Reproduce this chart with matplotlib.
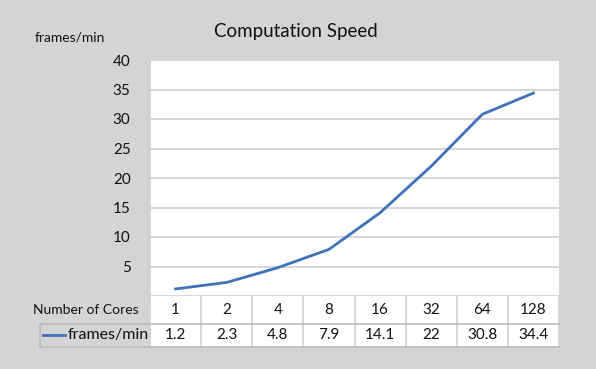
import matplotlib
matplotlib.use("Agg")
import matplotlib.pyplot as plt
from matplotlib.lines import Line2D

# data
cores = ["1", "2", "4", "8", "16", "32", "64", "128"]
speed = [1.2, 2.3, 4.8, 7.9, 14.1, 22, 30.8, 34.4]
yticks = [5, 10, 15, 20, 25, 30, 35, 40]

plt.rcParams['font.family'] = ['Lato', 'DejaVu Sans']
W, H = 596, 369
bg = '#d4d4d4'
grid = '#d0d0d0'
blue = '#3f72b8'
txt = '#111111'

fig = plt.figure(figsize=(W / 100, H / 100), dpi=100, facecolor=bg)

def fx(px): return px / W
def fy(py): return 1 - py / H

L, R, T, B = 150, 559, 60, 296
ax = fig.add_axes([fx(L), fy(B), fx(R) - fx(L), fy(T) - fy(B)])
ax.set_facecolor('white')
ax.set_xlim(-0.5, len(cores) - 0.5)
ax.set_ylim(0, 40)
ax.set_yticks(yticks)
ax.set_yticklabels([str(v) for v in yticks], fontsize=11, color=txt)
ax.set_xticks([])
ax.tick_params(axis='y', length=0, pad=14)
ax.grid(axis='y', color=grid, linewidth=1.2)
ax.set_axisbelow(True)
for s in ['top', 'right']:
    ax.spines[s].set_visible(False)
ax.spines['left'].set_color(grid)
ax.spines['bottom'].set_color(grid)
ax.spines['left'].set_linewidth(1.2)
ax.spines['bottom'].set_linewidth(1.2)
ax.plot(range(len(cores)), speed, color=blue, linewidth=2, solid_joinstyle='round')

# data table below the plot
TB = 347
row1 = 324
tab = fig.add_axes([fx(L), fy(TB), fx(R) - fx(L), fy(B) - fy(TB)])
tab.set_xlim(-0.5, len(cores) - 0.5)
tab.set_ylim(0, 2)
tab.axis('off')
tab.add_patch(plt.Rectangle((-0.5, 0), len(cores), 2, facecolor='white', edgecolor='none'))
for i in range(len(cores) + 1):
    tab.plot([i - 0.5, i - 0.5], [0, 2], color=grid, linewidth=1.2)
for i, (c, v) in enumerate(zip(cores, speed)):
    tab.text(i, 1.47, c, ha='center', va='center', fontsize=11, color=txt)
    tab.text(i, 0.47, f"{v:g}", ha='center', va='center', fontsize=11, color=txt)

lw = dict(color='#bdbdbd', linewidth=1.2, transform=fig.transFigure)
fig.add_artist(Line2D([fx(40), fx(R)], [fy(row1), fy(row1)], **lw))
fig.add_artist(Line2D([fx(40), fx(R)], [fy(TB), fy(TB)], **lw))
fig.add_artist(Line2D([fx(40), fx(40)], [fy(row1), fy(TB)], **lw))
fig.text(fx(139), fy(310), "Number of Cores", ha='right', va='center', fontsize=10, color=txt)
fig.add_artist(Line2D([fx(43), fx(65)], [fy(335), fy(335)], color=blue, linewidth=2,
                      transform=fig.transFigure))
fig.text(fx(68), fy(335.5), "frames/min", ha='left', va='center', fontsize=11.5, color=txt)

fig.text(fx(296), fy(31), "Computation Speed", ha='center', va='center', fontsize=13.5, color=txt)
fig.text(fx(70), fy(38), "frames/min", ha='center', va='center', fontsize=10, color=txt)

fig.savefig("out.png", dpi=100, facecolor=bg)
